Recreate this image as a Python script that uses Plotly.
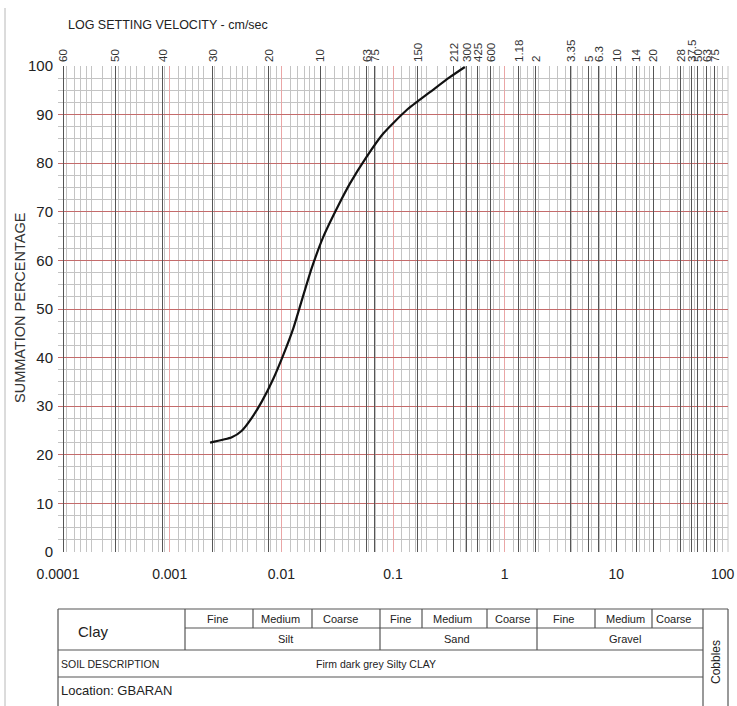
import plotly.graph_objects as go

# ---------------- data ----------------
particle_size_mm = [0.0023, 0.0036, 0.0044, 0.0054, 0.0067, 0.0085, 0.0104, 0.0128,
                    0.0149, 0.0187, 0.0237, 0.0324, 0.0411, 0.058, 0.0818, 0.132,
                    0.214, 0.323, 0.44]
percent_passing = [22.5, 23.6, 24.9, 27.5, 31.0, 35.7, 40.5, 46.0,
                   51.0, 58.4, 64.8, 71.3, 75.8, 81.3, 86.1, 90.9,
                   94.6, 97.7, 99.8]

bottom_tick_vals = [0.0001, 0.001, 0.01, 0.1, 1, 10]
bottom_tick_text = ["0.0001", "0.001", "0.01", "0.1", "1", "10"]
bottom_end_label = "100"   # right end of the axis, kept inside the page

top_tick_text = ["60", "50", "40", "30", "20", "10", "63", "75", "150", "212", "300",
                 "425", "600", "1.18", "2", "3.35", "5", "6.3", "10", "14", "20",
                 "28", "37.5", "50", "63", "75"]
top_tick_pos_mm = [0.000111, 0.000324, 0.000871, 0.00244, 0.00775, 0.0222, 0.0583,
                   0.0689, 0.167, 0.351, 0.459, 0.575, 0.753, 1.34, 1.90, 3.92, 5.68,
                   6.97, 10.1, 15.2, 21.6, 37.8, 47.4, 53.7, 64.6, 76.2]

y_tick_vals = list(range(0, 101, 10))

fraction_names = ["Silt", "Sand", "Gravel"]
subdivision_names = ["Fine", "Medium", "Coarse"]
clay_label = "Clay"
cobbles_label = "Cobbles"
soil_description_label = "SOIL DESCRIPTION"
soil_description = "Firm dark grey Silty CLAY"
location_label = "Location: GBARAN"
top_title = "LOG SETTING VELOCITY - cm/sec"
y_title = "SUMMATION PERCENTAGE"

# ---------------- layout helpers ----------------
W, H = 737, 706
L, R, T, B = 58, 728, 66, 552


def X(px):
    return (px - L) / (R - L)


def Y(py):
    return (B - py) / (B - T)


FONT = "Liberation Sans Narrow, Arial Narrow, Liberation Sans, Arial, sans-serif"
TXT = "#222222"

minor_mult = [1.2, 1.4, 1.6, 1.8, 2, 2.5, 3, 3.5, 4, 4.5, 5, 6, 7, 8, 9]
minor_vals = [m * 10 ** e for e in range(-4, 2) for m in minor_mult]
decade_vals = [10 ** e for e in range(-4, 3)]

fig = go.Figure()
fig.add_trace(go.Scatter(
    x=particle_size_mm, y=percent_passing, mode="lines",
    line=dict(color="#111111", width=2.2, shape="spline", smoothing=0.6),
    hoverinfo="x+y", showlegend=False, xaxis="x", yaxis="y"))
# invisible trace so that the top axis is drawn
fig.add_trace(go.Scatter(
    x=particle_size_mm, y=percent_passing, mode="lines",
    line=dict(color="rgba(0,0,0,0)", width=0), hoverinfo="skip",
    showlegend=False, xaxis="x2", yaxis="y"))

fig.update_layout(
    width=W, height=H,
    margin=dict(l=L, r=W - R, t=T, b=H - B, autoexpand=False),
    paper_bgcolor="white", plot_bgcolor="white",
    font=dict(family=FONT, size=14, color=TXT),
    xaxis=dict(
        type="log", range=[-4, 2], tickmode="array", automargin=False,
        tickvals=bottom_tick_vals, ticktext=bottom_tick_text,
        showgrid=True, gridcolor="#eaa6a6", gridwidth=1.2,
        zeroline=False, showline=False, ticks="", ticklabelstandoff=12,
        tickfont=dict(size=14, family=FONT, color=TXT),
        minor=dict(tickmode="array", tickvals=minor_vals, showgrid=True,
                   gridcolor="#c4c4c4", gridwidth=1),
    ),
    xaxis2=dict(
        type="log", range=[-4, 2], overlaying="x", side="top", anchor="y",
        automargin=False,
        tickmode="array", tickvals=top_tick_pos_mm, ticktext=top_tick_text,
        tickangle=-90, showgrid=True, gridcolor="#555555", gridwidth=1,
        zeroline=False, showline=False, ticks="", ticklabelstandoff=3,
        tickfont=dict(size=11.5, family=FONT, color="#333"),
    ),
    yaxis=dict(
        range=[0, 100], tickmode="array", tickvals=y_tick_vals, automargin=False,
        showgrid=True, gridcolor="#c46b6b", gridwidth=1.4,
        zeroline=False, showline=False, ticks="", ticklabelstandoff=4,
        tickfont=dict(size=15, family=FONT, color=TXT),
        minor=dict(dtick=2.5, tick0=0, showgrid=True, gridcolor="#c4c4c4", gridwidth=1),
    ),
)

annotations = []
shapes = []

# right-end label of the bottom axis (kept within the page)
annotations.append(dict(xref="paper", yref="paper", x=X(736), y=Y(574), xanchor="right",
                        yanchor="middle", text=bottom_end_label, showarrow=False,
                        xshift=0, borderpad=0,
                        font=dict(size=14, family=FONT, color=TXT)))
# right edge decade grid line (100)
shapes.append(dict(type="line", xref="paper", yref="paper", x0=1, x1=1, y0=0, y1=1,
                   line=dict(color="#c4c4c4", width=1), layer="below"))

# top title
annotations.append(dict(xref="paper", yref="paper", x=X(66), y=Y(25), xanchor="left",
                        yanchor="middle", text=top_title,
                        showarrow=False, font=dict(size=12.5, family=FONT, color=TXT)))
# y title
annotations.append(dict(xref="paper", yref="paper", x=X(20), y=Y(308), xanchor="center",
                        yanchor="middle", text=y_title, textangle=-90,
                        showarrow=False, font=dict(size=14.5, family=FONT, color="#333")))

# page border line at left
shapes.append(dict(type="line", xref="paper", yref="paper", x0=X(5), x1=X(5),
                   y0=Y(8), y1=Y(706), line=dict(color="#b8b8b8", width=1)))

# ---------------- table ----------------
line_style = dict(color="#555555", width=1.2)
t_top, t_mid, t_row2, t_row3, t_bot = 609, 628, 650, 677, 706
t_left, t_right, cob_left = 58, 728, 703


def hline(x0, x1, y):
    shapes.append(dict(type="line", xref="paper", yref="paper", x0=X(x0), x1=X(x1),
                       y0=Y(y), y1=Y(y), line=line_style))


def vline(x, y0, y1):
    shapes.append(dict(type="line", xref="paper", yref="paper", x0=X(x), x1=X(x),
                       y0=Y(y0), y1=Y(y1), line=line_style))


def label(px, py, text, size, anchor="center", angle=0, family=FONT):
    annotations.append(dict(xref="paper", yref="paper", x=X(px), y=Y(py), text=text,
                            showarrow=False, xanchor=anchor, yanchor="middle",
                            textangle=angle, font=dict(size=size, family=family, color=TXT)))


hline(t_left, t_right, t_top)
hline(185, cob_left, t_mid)
hline(t_left, cob_left, t_row2)
hline(t_left, cob_left, t_row3)
vline(t_left, t_top, t_bot)
vline(t_right, t_top, t_bot)
vline(cob_left, t_top, t_bot)

fraction_edges = [(185, 380), (380, 537), (537, cob_left)]
sub_edges = [[185, 253, 312, 380], [380, 422, 487, 537], [537, 595, 652, cob_left]]
sub_text_x = [[217, 280, 340], [400, 452, 512], [563, 625, 673]]
frac_text_x = [285, 457, 625]

for (a, b) in fraction_edges:
    vline(a, t_top, t_row2)
for fi, edges in enumerate(sub_edges):
    for e in edges[1:-1]:
        vline(e, t_top, t_mid)
    for si, name in enumerate(subdivision_names):
        label(sub_text_x[fi][si], 618.5, name, 11)
    label(frac_text_x[fi], 639, fraction_names[fi], 11)

label(93, 631, clay_label, 15)
label(59, 664, soil_description_label, 10.5, anchor="left")
label(376, 664, soil_description, 10.5)
label(59, 690, location_label, 13, anchor="left")
label(716, 662, cobbles_label, 12, angle=-90)

fig.update_layout(annotations=annotations, shapes=shapes)

fig.write_html("out.html", config={"displayModeBar": False},
               post_script="document.body.style.margin='0';")
